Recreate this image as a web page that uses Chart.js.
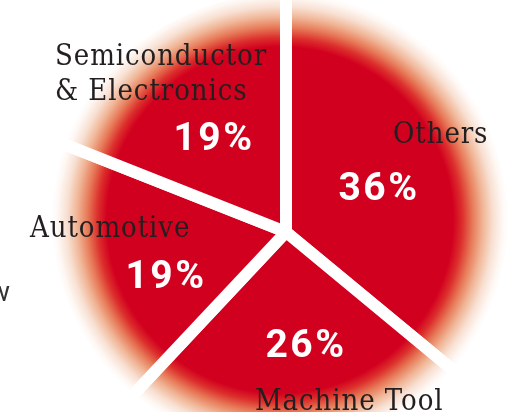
<!DOCTYPE html>
<html>
<head>
<meta charset="utf-8">
<script src="https://cdn.jsdelivr.net/npm/chart.js@4.4.1/dist/chart.umd.min.js"></script>
<style>
  html, body { margin: 0; padding: 0; background: #fff; }
  #wrap { position: relative; width: 518px; height: 412px; overflow: hidden; background: #fff; }
  #pie { position: absolute; left: 0; top: -10px; }
</style>
</head>
<body>
<div id="wrap">
  <canvas id="pie" width="535" height="495"></canvas>
</div>
<script>
// share of sales by industry, clockwise from 12 o'clock
const categories = ['Others', 'Machine Tool', 'Automotive', 'Semiconductor & Electronics'];
const shares = [36, 26, 19, 19];
const nameLines = [['Others'], ['Machine Tool'], ['Automotive'], ['Semiconductor', '& Electronics']];

const RED = '#d2001f';

// label placement, offsets from the pie centre
const nameSpots = [
  { dx: 107, dy: -89 },
  { dx: -31, dy: 178 },
  { dx: -256, dy: 5 },
  { dx: -231, dy: -167 }
];
const pctSpots = [
  { dx: 93, dy: -32 },
  { dx: 20, dy: 125 },
  { dx: -120, dy: 56 },
  { dx: -72, dy: -82 }
];

// soft red glow, a bit off the pie centre
function redGlow(context) {
  const chart = context.chart;
  const area = chart.chartArea;
  if (!area) return RED;
  const cx = (area.left + area.right) / 2 - 6;
  const cy = (area.top + area.bottom) / 2 - 12;
  const g = chart.ctx.createRadialGradient(cx, cy, 0, cx, cy, 228);
  g.addColorStop(0, RED);
  g.addColorStop(0.76, RED);
  g.addColorStop(0.8, '#dc2f2c');
  g.addColorStop(0.845, '#e77a58');
  g.addColorStop(0.89, '#f0b596');
  g.addColorStop(0.935, '#f8e0d2');
  g.addColorStop(0.975, '#fef7f3');
  g.addColorStop(1, '#ffffff');
  return g;
}

const labelPlugin = {
  id: 'sliceLabels',
  afterDatasetsDraw(chart) {
    const ctx = chart.ctx;
    const arc = chart.getDatasetMeta(0).data[0];
    const cx = arc.x, cy = arc.y;
    ctx.save();
    ctx.textBaseline = 'alphabetic';

    ctx.fillStyle = '#231f20';
    ctx.font = '29px "DejaVu Serif"';
    ctx.letterSpacing = '1px';
    ctx.textAlign = 'left';
    nameLines.forEach((lines, i) => {
      lines.forEach((t, j) => {
        ctx.save();
        ctx.translate(cx + nameSpots[i].dx, cy + nameSpots[i].dy + j * 35);
        ctx.scale(0.9, 1);
        ctx.fillText(t, 0, 0);
        ctx.restore();
      });
    });

    ctx.fillStyle = '#ffffff';
    ctx.font = 'bold 39px Roboto';
    ctx.letterSpacing = '2.5px';
    ctx.textAlign = 'center';
    shares.forEach((v, i) => {
      ctx.fillText(v + '%', cx + pctSpots[i].dx, cy + pctSpots[i].dy);
    });

    // fragment of neighbouring text cut by the frame
    ctx.fillStyle = '#333333';
    ctx.font = '28px Roboto';
    ctx.letterSpacing = '0px';
    ctx.textAlign = 'left';
    ctx.fillText('w', -11, cy + 69);
    ctx.restore();
  }
};

new Chart(document.getElementById('pie'), {
  type: 'pie',
  data: {
    labels: categories,
    datasets: [{
      data: shares,
      backgroundColor: redGlow,
      borderColor: '#ffffff',
      borderWidth: 12,
      borderJoinStyle: 'bevel',
      hoverOffset: 0
    }]
  },
  options: {
    responsive: false,
    animation: false,
    radius: 245,
    rotation: 0,
    layout: { padding: { left: 41, right: 4, top: 0, bottom: 11 } },
    plugins: {
      legend: { display: false },
      tooltip: { enabled: false }
    },
    events: []
  },
  plugins: [labelPlugin]
});
</script>
</body>
</html>
